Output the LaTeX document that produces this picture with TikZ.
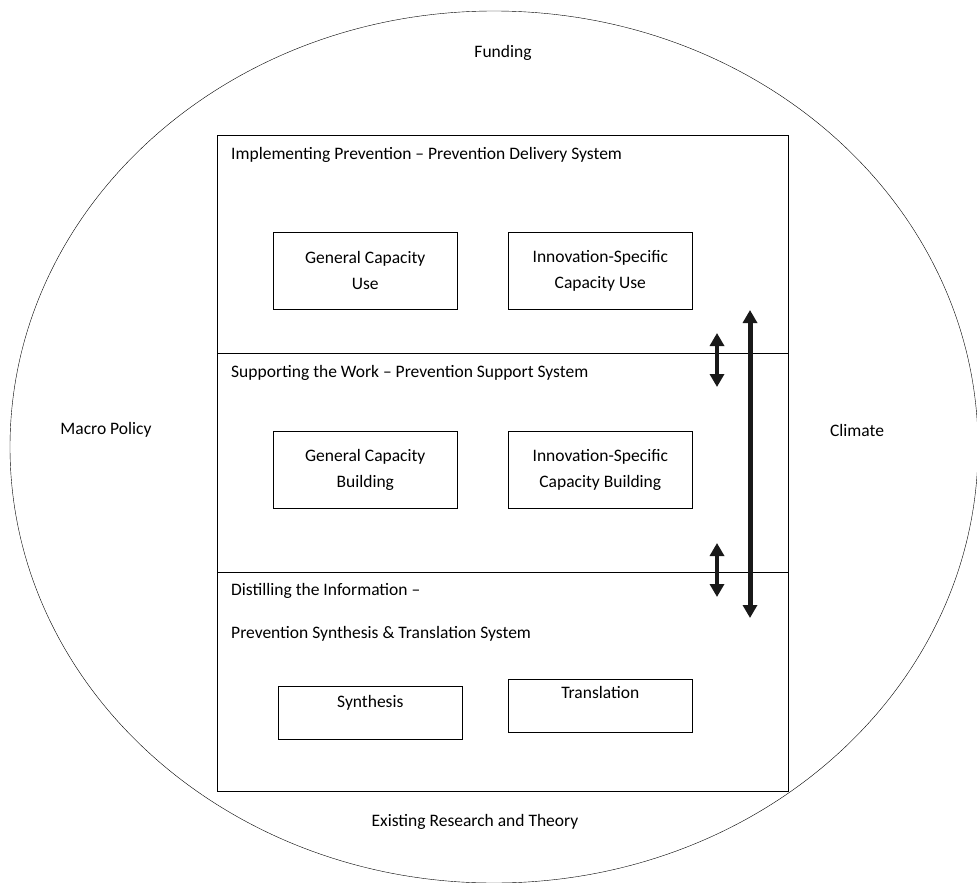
\documentclass[tikz,border=0pt]{standalone}
\usepackage{fontspec}
\setmainfont{Carlito}
\usepackage{xcolor}
\usetikzlibrary{positioning,arrows.meta}

\begin{document}
\begin{tikzpicture}[x=1pt, y=-1pt, font=\fontsize{17.5}{26}\selectfont,
    capbox/.style={draw, semithick, minimum width=184pt, minimum height=77pt, align=center, anchor=north west},
    lowbox/.style={draw, semithick, minimum width=184pt, minimum height=53pt, anchor=north west},
    syslabel/.style={anchor=west, inner sep=0pt},
    bigarrow/.style={{Triangle[length=13pt,width=14pt]}-{Triangle[length=13pt,width=14pt]}, line width=4pt, black!90}]
    \useasboundingbox (0,0) rectangle (977,883);

    % Outer ellipse
    \draw (494,447) ellipse [x radius=484, y radius=436];
    \node (funding) at (503,53) {Funding};
    \node (macro) at (106,430) {Macro Policy};
    \node (climate) at (857,430) {Climate};
    \node (research) at (475,822) {Existing Research and Theory};

    % Systems frame
    \draw[semithick] (217,135) rectangle (788,791);
    \draw[semithick] (217,353) -- (788,353);
    \draw[semithick] (217,572) -- (788,572);

    % Delivery System
    \node[syslabel] (deliver) at (231,155) {Implementing Prevention -- Prevention Delivery System};
    \node[capbox] (genuse) at (273,232) {General Capacity\\Use};
    \node[capbox] (innuse) at (508,232) {Innovation-Specific\\Capacity Use};

    % Support System
    \node[syslabel] (support) at (231,373) {Supporting the Work -- Prevention Support System};
    \node[capbox] (genbuild) at (273,431) {General Capacity\\Building};
    \node[capbox] (innbuild) at (508,431) {Innovation-Specific\\Capacity Building};

    % Synthesis & Translation System
    \node[syslabel] (distil) at (231,591) {Distilling the Information --};
    \node[syslabel] (synsys) at (231,634) {Prevention Synthesis \& Translation System};
    \node[lowbox] (synth) at (278,686) {};
    \node[anchor=north] at ([yshift=-6pt]synth.north) {Synthesis};
    \node[lowbox] (transl) at (508,679) {};
    \node[anchor=north] at ([yshift=-4pt]transl.north) {Translation};

    % Arrows
    \coordinate (a1) at (717,333);
    \coordinate (b1) at (717,387);
    \coordinate (a2) at (717,543);
    \coordinate (b2) at (717,597);
    \coordinate (a3) at (750,310);
    \coordinate (b3) at (750,618);
    \draw[bigarrow] (a1) -- (b1);
    \draw[bigarrow] (a2) -- (b2);
    \draw[bigarrow, line width=5pt] (a3) -- (b3);
\end{tikzpicture}
\end{document}
